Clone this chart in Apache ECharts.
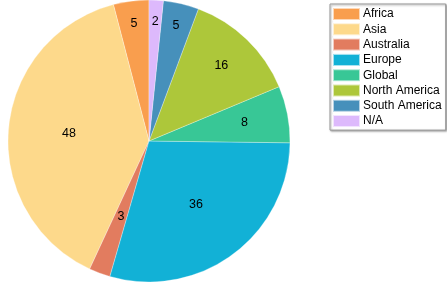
<!DOCTYPE html>
<html>
<head>
<meta charset="utf-8">
<script src="https://cdn.jsdelivr.net/npm/echarts@6/dist/echarts.min.js"></script>
<style>
  html, body { margin: 0; padding: 0; background: #fff; }
  #regionPieChart { width: 447px; height: 282px; }
</style>
</head>
<body>
<div id="regionPieChart"></div>
<script>
var regions = ['Africa', 'Asia', 'Australia', 'Europe', 'Global', 'North America', 'South America', 'N/A'];
var counts = [5, 48, 3, 36, 8, 16, 5, 2];
var colors = ['#F99E4E', '#FDD98B', '#E27C5F', '#12B1D6', '#38C796', '#ADC73A', '#4690BB', '#DDB9FC'];

// how far out (fraction of radius) each slice's number sits
var labelDist = [0.84, 0.57, 0.57, 0.56, 0.69, 0.74, 0.84, 0.85];

var cx = 149, cy = 141, r = 141;

var regionPieChart = echarts.init(document.getElementById('regionPieChart'));

var pieData = [];
regions.forEach(function (name, i) {
    pieData.push({
        name: name,
        value: counts[i],
        itemStyle: {color: colors[i]}
    });
});

var option = {
    animation: false,
    legend: {
        orient: 'vertical',
        left: 330,
        top: 4,
        padding: [3, 4, 2, 2],
        itemWidth: 27,
        itemHeight: 12,
        itemGap: 1.3,
        borderColor: '#999',
        borderWidth: 1,
        backgroundColor: '#fff',
        shadowColor: 'rgba(0,0,0,0.35)',
        shadowBlur: 2,
        shadowOffsetX: 1,
        shadowOffsetY: 1,
        icon: 'rect',
        textStyle: {
            fontFamily: 'Liberation Sans',
            fontSize: 12,
            color: '#000',
            padding: [0, 0, 0, -2]
        },
        data: regions
    },
    series: [
        {
            name: 'Region',
            type: 'pie',
            center: [cx, cy],
            radius: r,
            startAngle: 90,
            clockwise: false,
            avoidLabelOverlap: false,
            itemStyle: {borderColor: 'rgba(255,255,255,0.6)', borderWidth: 0.5},
            label: {
                show: true,
                position: 'inside',
                formatter: '{c}',
                color: '#000',
                fontFamily: 'Liberation Sans',
                fontSize: 12.5
            },
            labelLine: {show: false},
            labelLayout: function (params) {
                var lr = params.labelRect;
                var mx = lr.x + lr.width / 2 - cx;
                var my = lr.y + lr.height / 2 - cy;
                var a = Math.atan2(my, mx);
                var d = r * labelDist[params.dataIndex];
                return {
                    x: cx + Math.cos(a) * d,
                    y: cy + Math.sin(a) * d,
                    align: 'center',
                    verticalAlign: 'middle'
                };
            },
            emphasis: {disabled: true},
            data: pieData
        }
    ]
};
regionPieChart.setOption(option);
</script>
</body>
</html>
